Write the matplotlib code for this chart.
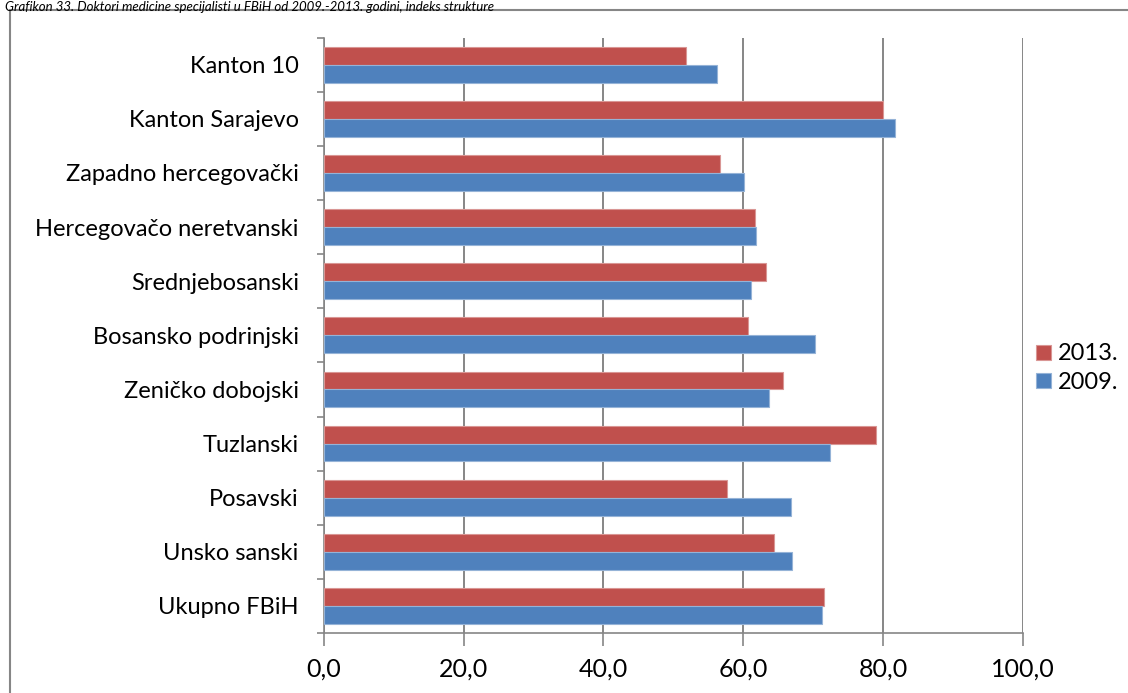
import matplotlib
matplotlib.use('Agg')
import matplotlib.pyplot as plt
import numpy as np
from matplotlib.patches import Rectangle

# categories listed bottom to top (as drawn)
cantons = ['Ukupno FBiH', 'Unsko sanski', 'Posavski', 'Tuzlanski', 'Zeničko dobojski',
           'Bosansko podrinjski', 'Srednjebosanski', 'Hercegovačo neretvanski',
           'Zapadno hercegovački', 'Kanton Sarajevo', 'Kanton 10']
values_2013 = [71.6, 64.4, 57.7, 78.9, 65.6, 60.6, 63.2, 61.7, 56.7, 79.9, 51.8]
values_2009 = [71.3, 67.0, 66.8, 72.4, 63.6, 70.2, 61.1, 61.8, 60.1, 81.7, 56.2]
x_ticks = [0, 20, 40, 60, 80, 100]
x_labels = ['0,0', '20,0', '40,0', '60,0', '80,0', '100,0']
caption = 'Grafikon 33. Doktori medicine specijalisti u FBiH od 2009.-2013. godini, indeks strukture'

plt.rcParams['font.family'] = ['Lato', 'DejaVu Sans']

fig = plt.figure(figsize=(11.28, 6.93), dpi=100)
ax = fig.add_axes([0.287, 0.0866, 0.62, 0.859])

y = np.arange(len(cantons))
h = 0.33
red = '#C0504D'
blue = '#4F81BD'

ax.barh(y + h / 2, values_2013, height=h, color=red, edgecolor='#D99694', linewidth=0.8, label='2013.', zorder=3)
ax.barh(y - h / 2, values_2009, height=h, color=blue, edgecolor='#95B3D7', linewidth=0.8, label='2009.', zorder=3)

ax.set_xlim(0, 100)
ax.set_ylim(-0.5, len(cantons) - 0.5)
ax.set_xticks(x_ticks)
ax.set_xticklabels(x_labels, fontsize=18)
ax.set_yticks(y)
ax.set_yticklabels(cantons, fontsize=17)
ax.tick_params(axis='y', length=0, pad=18)
ax.set_yticks(np.arange(-0.5, len(cantons), 1), minor=True)
ax.tick_params(axis='y', which='minor', length=5, width=1.2, color='#868686', direction='out')
ax.tick_params(axis='x', length=9, width=1.2, color='#868686', pad=9)

ax.grid(axis='x', color='#868686', linewidth=1.4, zorder=0)
for side in ['top', 'right']:
    ax.spines[side].set_visible(False)
ax.spines['left'].set_color('#868686')
ax.spines['left'].set_linewidth(1.2)
ax.spines['bottom'].set_color('#868686')
ax.spines['bottom'].set_linewidth(1.2)

handles, labels = ax.get_legend_handles_labels()
fig.legend(handles, labels, loc='center left', bbox_to_anchor=(0.9, 0.469), frameon=False,
           fontsize=17, handlelength=0.6, handleheight=0.6, handletextpad=0.3, labelspacing=0.3)

# outer chart border
fig.patches.append(Rectangle((10 / 1128, -0.02), 1.02, 1 - 10 / 693 + 0.02, transform=fig.transFigure,
                             fill=False, edgecolor='#868686', linewidth=1.5))

fig.text(0.004, 0.999, caption, fontsize=9.5, style='italic', va='top', ha='left')

fig.savefig('out.png', dpi=100)
